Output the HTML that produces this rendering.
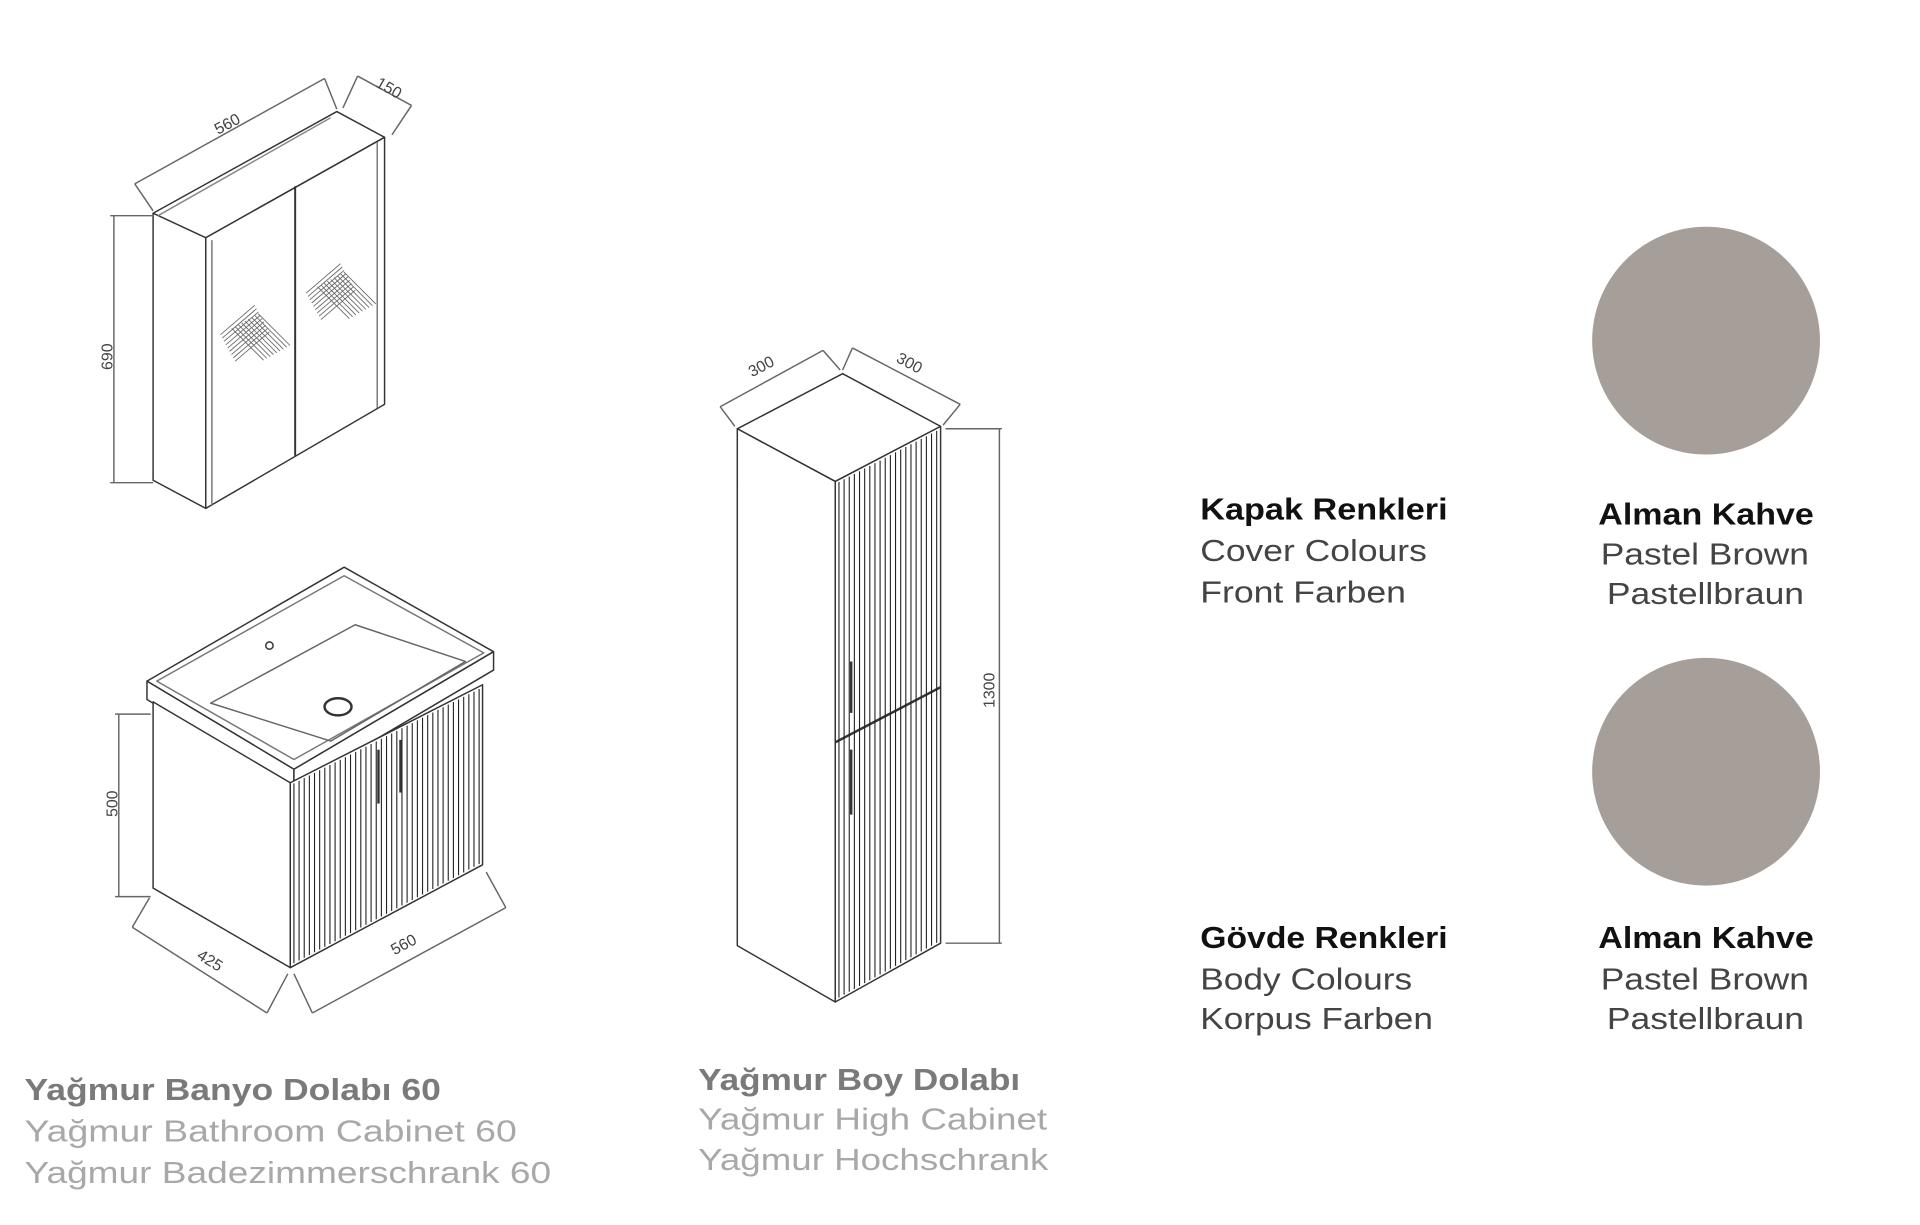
<!DOCTYPE html>
<html><head><meta charset="utf-8"><style>
html,body{margin:0;padding:0;background:#fff;}
svg{display:block;}
text{font-family:"Liberation Sans",sans-serif;}
</style></head><body>
<svg width="1920" height="1225" viewBox="0 0 1552 990" xmlns="http://www.w3.org/2000/svg">
<g transform="scale(0.99)">
<g fill="none" stroke="#333" stroke-width="1.2" stroke-linejoin="round">
<polygon points="125,174 168,194 314,112 275,91" fill="#fff"/>
<polygon points="125,174 168,194 168,415 125,392" fill="#fff"/>
<polygon points="168,194 314,112 314,330 168,415" fill="#fff"/>
<line x1="173" y1="196" x2="173" y2="413" stroke="#777"/>
<line x1="308" y1="116" x2="308" y2="333" stroke="#777"/>
<line x1="241" y1="152" x2="241" y2="372" stroke-width="1.6"/>
<line x1="129" y1="176" x2="270" y2="96" stroke="#888"/>
<line x1="93" y1="176" x2="93" y2="394" stroke="#666"/>
<line x1="90" y1="176" x2="125" y2="176" stroke="#666"/>
<line x1="90" y1="394" x2="125" y2="394" stroke="#666"/>
<line x1="110" y1="150" x2="265" y2="64" stroke="#666"/>
<line x1="110" y1="150" x2="125" y2="172" stroke="#666"/>
<line x1="265" y1="64" x2="275" y2="89" stroke="#666"/>
<line x1="292" y1="62" x2="336" y2="86" stroke="#666"/>
<line x1="292" y1="62" x2="280" y2="88" stroke="#666"/>
<line x1="336" y1="86" x2="320" y2="110" stroke="#666"/>
</g>
<g id="x1" stroke="#666" stroke-width="0.7"></g>
<text transform="translate(178,110) rotate(-28)" font-family="Liberation Serif" font-size="13" fill="#444">560</text>
<text transform="translate(306,70) rotate(30)" font-family="Liberation Serif" font-size="13" fill="#444">150</text>
<text transform="translate(92,302) rotate(-90)" font-family="Liberation Serif" font-size="13" fill="#444">690</text>

<g fill="none" stroke="#333" stroke-width="1.2" stroke-linejoin="round">
<polygon points="120,556 281,463 403,532 240,628" fill="#fff"/>
<polygon points="120,556 240,628 240,643 120,571" fill="#fff"/>
<polygon points="240,628 403,532 403,547 240,643" fill="#fff"/>
<polygon points="128,556 281,470 395,533 240,620" stroke="#777"/>
<polygon points="172,574 290,510 380,540 270,605" stroke="#666"/>
<circle cx="220" cy="527" r="3"/>
<ellipse cx="276" cy="577" rx="11" ry="7" stroke-width="2"/>
<polygon points="125,573 237,639 237,790 125,725" fill="#fff"/>
<polygon points="237,639 394,559 394,706 237,790" fill="#fff"/>
<line x1="97" y1="583" x2="97" y2="732" stroke="#666"/>
<line x1="94" y1="583" x2="123" y2="583" stroke="#666"/>
<line x1="94" y1="732" x2="123" y2="732" stroke="#666"/>
<line x1="108" y1="757" x2="218" y2="827" stroke="#666"/>
<line x1="108" y1="757" x2="122" y2="733" stroke="#666"/>
<line x1="218" y1="827" x2="235" y2="795" stroke="#666"/>
<line x1="255" y1="827" x2="413" y2="741" stroke="#666"/>
<line x1="255" y1="827" x2="240" y2="795" stroke="#666"/>
<line x1="413" y1="741" x2="397" y2="712" stroke="#666"/>
</g>
<g id="fl1" stroke="#222" stroke-width="0.9"></g>
<g stroke="#333" stroke-width="2" fill="none"><line x1="309" y1="612" x2="309" y2="656"/><line x1="327" y1="604" x2="327" y2="647"/></g>
<text transform="translate(160,782) rotate(32)" font-family="Liberation Serif" font-size="13" fill="#444">425</text>
<text transform="translate(322,780) rotate(-28)" font-family="Liberation Serif" font-size="13" fill="#444">560</text>
<text transform="translate(96,667) rotate(-90)" font-family="Liberation Serif" font-size="13" fill="#444">500</text>

<g fill="none" stroke="#333" stroke-width="1.2" stroke-linejoin="round">
<polygon points="602,350 688,305 768,348 682,393" fill="#fff"/>
<polygon points="602,350 682,393 682,818 602,772" fill="#fff"/>
<polygon points="682,393 768,348 768,770 682,818" fill="#fff"/>
<line x1="682" y1="606" x2="768" y2="561" stroke-width="2"/>
<line x1="588" y1="332" x2="672" y2="286" stroke="#666"/>
<line x1="588" y1="332" x2="600" y2="348" stroke="#666"/>
<line x1="672" y1="286" x2="686" y2="302" stroke="#666"/>
<line x1="696" y1="284" x2="784" y2="330" stroke="#666"/>
<line x1="696" y1="284" x2="688" y2="302" stroke="#666"/>
<line x1="784" y1="330" x2="770" y2="347" stroke="#666"/>
<line x1="816" y1="350" x2="816" y2="770" stroke="#666"/>
<line x1="772" y1="350" x2="818" y2="350" stroke="#666"/>
<line x1="772" y1="770" x2="818" y2="770" stroke="#666"/>
</g>
<g id="fl2" stroke="#222" stroke-width="0.9"></g>
<g stroke="#333" stroke-width="2" fill="none"><line x1="695" y1="540" x2="695" y2="582"/><line x1="695" y1="612" x2="695" y2="665"/></g>
<text transform="translate(614,308) rotate(-28)" font-family="Liberation Serif" font-size="13" fill="#444">300</text>
<text transform="translate(731,295) rotate(28)" font-family="Liberation Serif" font-size="13" fill="#444">300</text>
<text transform="translate(812,578) rotate(-90)" font-family="Liberation Serif" font-size="13" fill="#444">1300</text>

<g font-size="25">
<text x="20" y="898" fill="#7a7a7a" font-weight="bold" textLength="340" lengthAdjust="spacingAndGlyphs">Yağmur Banyo Dolabı 60</text>
<text x="20" y="932" fill="#a8a8a8" textLength="402" lengthAdjust="spacingAndGlyphs">Yağmur Bathroom Cabinet 60</text>
<text x="20" y="966" fill="#a8a8a8" textLength="430" lengthAdjust="spacingAndGlyphs">Yağmur Badezimmerschrank 60</text>
<text x="570" y="890" fill="#7a7a7a" font-weight="bold" textLength="263" lengthAdjust="spacingAndGlyphs">Yağmur Boy Dolabı</text>
<text x="570" y="922" fill="#a8a8a8" textLength="285" lengthAdjust="spacingAndGlyphs">Yağmur High Cabinet</text>
<text x="570" y="955" fill="#a8a8a8" textLength="286" lengthAdjust="spacingAndGlyphs">Yağmur Hochschrank</text>
</g>
<g font-size="25">
<text x="980" y="424" fill="#111" font-weight="bold" textLength="202" lengthAdjust="spacingAndGlyphs">Kapak Renkleri</text>
<text x="980" y="458" fill="#444" textLength="185" lengthAdjust="spacingAndGlyphs">Cover Colours</text>
<text x="980" y="492" fill="#444" textLength="168" lengthAdjust="spacingAndGlyphs">Front Farben</text>
<text x="980" y="774" fill="#111" font-weight="bold" textLength="202" lengthAdjust="spacingAndGlyphs">Gövde Renkleri</text>
<text x="980" y="808" fill="#444" textLength="173" lengthAdjust="spacingAndGlyphs">Body Colours</text>
<text x="980" y="840" fill="#444" textLength="190" lengthAdjust="spacingAndGlyphs">Korpus Farben</text>
<text x="1305" y="428" fill="#111" font-weight="bold" textLength="176" lengthAdjust="spacingAndGlyphs">Alman Kahve</text>
<text x="1307" y="461" fill="#444" textLength="170" lengthAdjust="spacingAndGlyphs">Pastel Brown</text>
<text x="1312" y="493" fill="#444" textLength="161" lengthAdjust="spacingAndGlyphs">Pastellbraun</text>
<text x="1305" y="774" fill="#111" font-weight="bold" textLength="176" lengthAdjust="spacingAndGlyphs">Alman Kahve</text>
<text x="1307" y="808" fill="#444" textLength="170" lengthAdjust="spacingAndGlyphs">Pastel Brown</text>
<text x="1312" y="840" fill="#444" textLength="161" lengthAdjust="spacingAndGlyphs">Pastellbraun</text>
</g>
<ellipse cx="1393" cy="278" rx="93" ry="93" fill="#a59e99"/>
<ellipse cx="1393" cy="630" rx="93" ry="93" fill="#a59e99"/>
</g>
</svg>
<script>
var NS="http://www.w3.org/2000/svg";
function L(g,x1,y1,x2,y2){var l=document.createElementNS(NS,"line");l.setAttribute("x1",x1);l.setAttribute("y1",y1);l.setAttribute("x2",x2);l.setAttribute("y2",y2);g.appendChild(l);}
var f1=document.getElementById("fl1");
for(var x=240;x<392;x+=4.2){var t=(x-237)/157;L(f1,x,639-80*t+2,x,790-84*t-2);}
var f2=document.getElementById("fl2");
for(var x=685;x<766;x+=4.2){var t=(x-682)/86;L(f2,x,393-45*t+2,x,818-48*t-2);}
var x1=document.getElementById("x1");
function cross(cx,cy){
 for(var i=-12;i<=12;i+=3){
  L(x1,cx-24+i*0.5,cy+6+i*0.9,cx+4+i*0.5,cy-18+i*0.9);
  L(x1,cx-10+i*0.9,cy-16-i*0.5,cx+16+i*0.9,cy+10-i*0.5);
 }
}
cross(210,278);cross(280,244);
</script>
</body></html>
